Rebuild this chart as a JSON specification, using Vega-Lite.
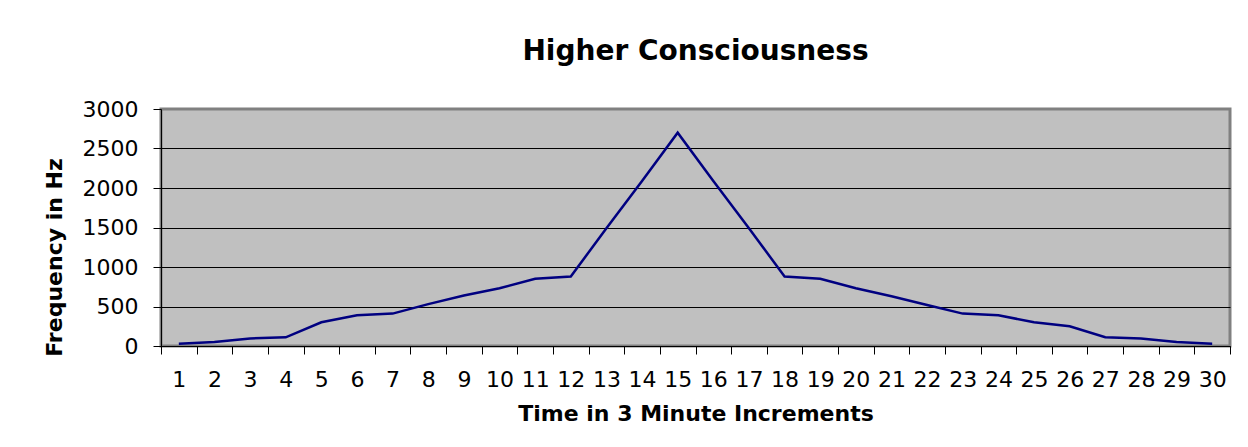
{
  "$schema": "https://vega.github.io/schema/vega-lite/v6.json",
  "width": 1069,
  "height": 237,
  "autosize": "none",
  "padding": {"left": 161, "top": 109, "right": 18, "bottom": 101},
  "background": "white",
  "title": {
    "text": "Higher Consciousness",
    "font": "DejaVu Sans",
    "fontSize": 28,
    "fontWeight": "bold",
    "color": "black",
    "anchor": "middle",
    "offset": 32
  },
  "data": {
    "values": [
      {"t": 1, "hz": 30}, {"t": 2, "hz": 50}, {"t": 3, "hz": 95}, {"t": 4, "hz": 110},
      {"t": 5, "hz": 300}, {"t": 6, "hz": 390}, {"t": 7, "hz": 410}, {"t": 8, "hz": 530},
      {"t": 9, "hz": 640}, {"t": 10, "hz": 730}, {"t": 11, "hz": 850}, {"t": 12, "hz": 880},
      {"t": 13, "hz": 1490}, {"t": 14, "hz": 2090}, {"t": 15, "hz": 2700}, {"t": 16, "hz": 2090},
      {"t": 17, "hz": 1490}, {"t": 18, "hz": 880}, {"t": 19, "hz": 850}, {"t": 20, "hz": 730},
      {"t": 21, "hz": 630}, {"t": 22, "hz": 520}, {"t": 23, "hz": 410}, {"t": 24, "hz": 390},
      {"t": 25, "hz": 300}, {"t": 26, "hz": 250}, {"t": 27, "hz": 110}, {"t": 28, "hz": 95},
      {"t": 29, "hz": 50}, {"t": 30, "hz": 30}
    ]
  },
  "mark": {"type": "line", "color": "#000080", "strokeWidth": 2.5},
  "encoding": {
    "x": {
      "field": "t",
      "type": "ordinal",
      "scale": {"paddingInner": 0, "paddingOuter": 0},
      "axis": {
        "title": "Time in 3 Minute Increments",
        "titleFont": "DejaVu Sans",
        "titleFontSize": 22,
        "titleFontWeight": "bold",
        "titleColor": "black",
        "titlePadding": 13,
        "labelFont": "DejaVu Sans",
        "labelFontSize": 22,
        "labelColor": "black",
        "labelAngle": 0,
        "labelPadding": 15,
        "labelOverlap": false,
        "tickBand": "extent",
        "tickColor": "black",
        "tickSize": 8,
        "domainColor": "black",
        "domainWidth": 1,
        "grid": false
      }
    },
    "y": {
      "field": "hz",
      "type": "quantitative",
      "scale": {"domain": [0, 3000], "nice": false, "zero": true},
      "axis": {
        "title": "Frequency in Hz",
        "titleFont": "DejaVu Sans",
        "titleFontSize": 22,
        "titleFontWeight": "bold",
        "titleColor": "black",
        "titleX": -95,
        "titleY": 148,
        "values": [0, 500, 1000, 1500, 2000, 2500, 3000],
        "format": "d",
        "labelFont": "DejaVu Sans",
        "labelFontSize": 22,
        "labelColor": "black",
        "labelPadding": 15,
        "tickColor": "black",
        "tickSize": 8,
        "domainColor": "black",
        "domainWidth": 1,
        "grid": true,
        "gridColor": {"condition": {"test": "datum.value === 3000", "value": "#808080"}, "value": "black"},
        "gridWidth": 1,
        "gridOpacity": 1
      }
    }
  },
  "config": {
    "view": {"fill": "#C0C0C0", "stroke": "#808080", "strokeWidth": 3}
  }
}
